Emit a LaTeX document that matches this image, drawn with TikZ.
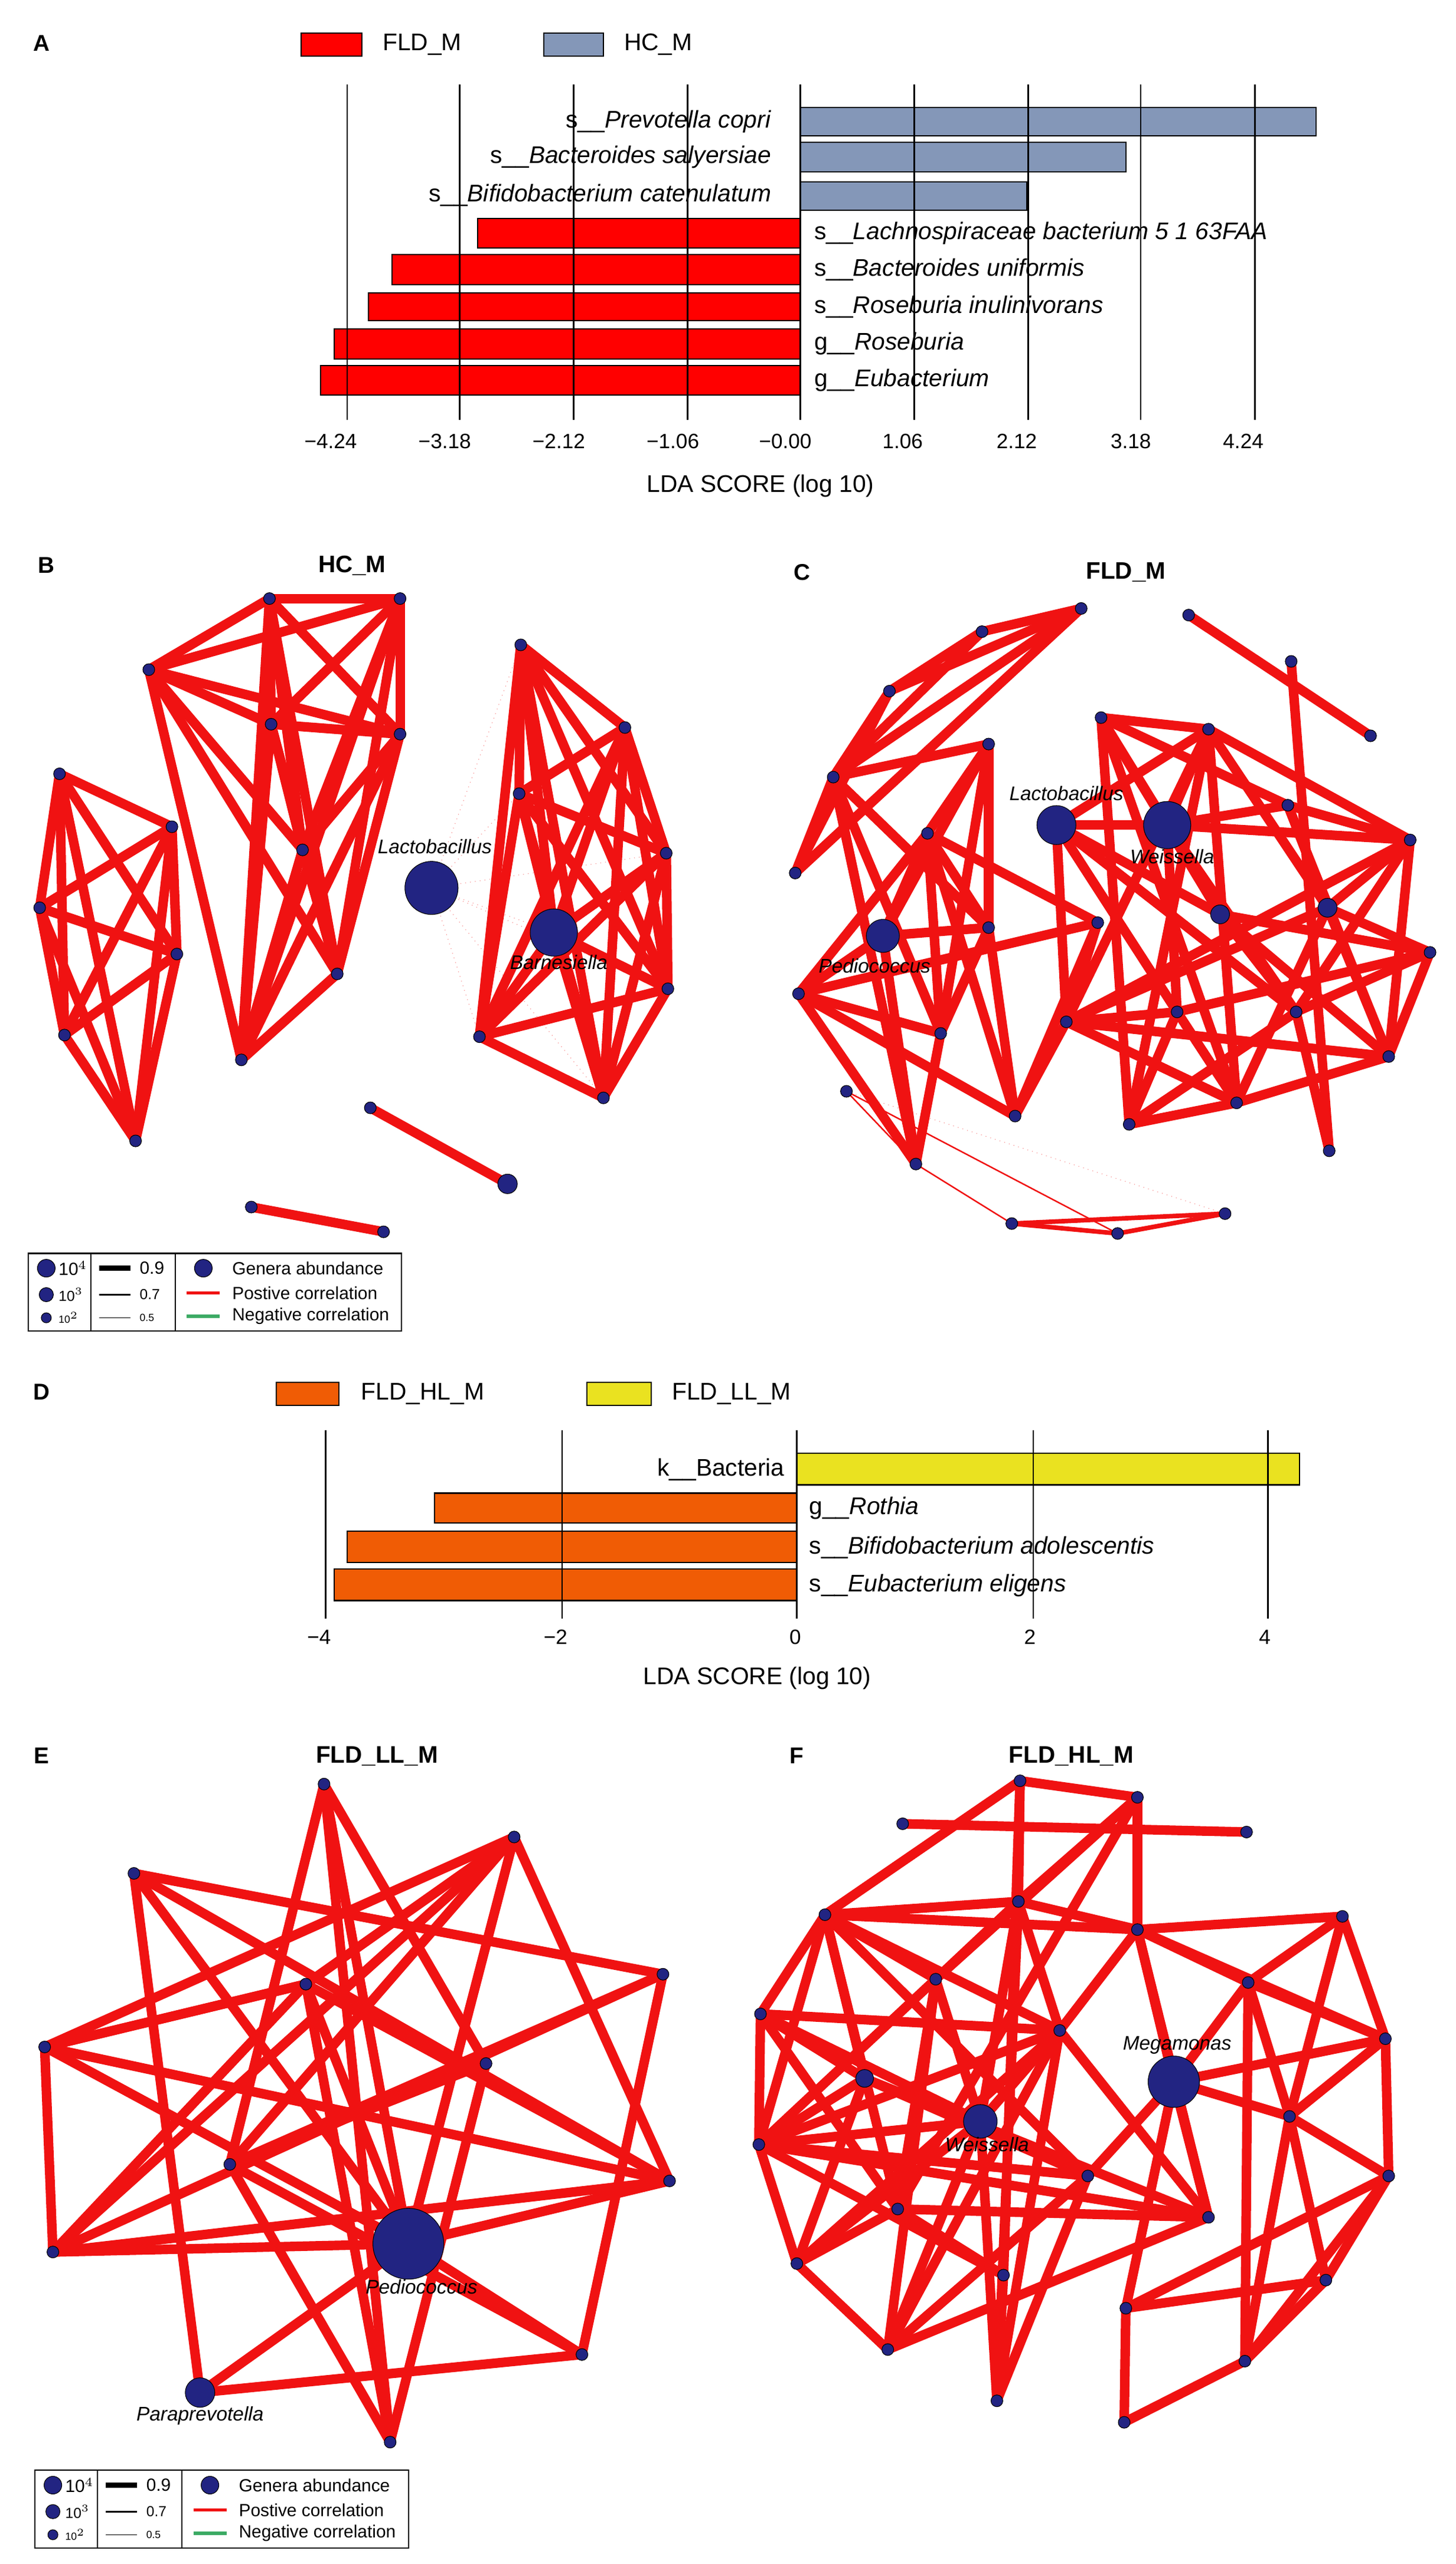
\documentclass[tikz,border=0pt]{standalone}
\usepackage{fontspec}
\setmainfont{Liberation Sans}
\begin{document}
\begin{tikzpicture}[x=0.028cm,y=-0.028cm,
  bar/.style={draw=black,line width=0.6pt},
  grid/.style={black,line width=0.8pt},
  lab/.style={font=\fontsize{11.6}{13}\selectfont,inner sep=1pt},
  tick/.style={font=\fontsize{10}{11}\selectfont},
  letter/.style={font=\bfseries\fontsize{11}{13}\selectfont},
  ttl/.style={font=\bfseries\fontsize{11.5}{13}\selectfont},
  edge/.style={draw=ered,line width=4.6pt},
  medge/.style={draw=ered,line width=2.2pt},
  thin/.style={draw=ered,line width=0.7pt},
  faint/.style={draw=ered!45,line width=0.35pt,dotted},
  g/.style={circle,fill=navy,draw=black,line width=0.3pt,inner sep=0pt,minimum size=#1},
  g/.default=0.2cm,
  nl/.style={font=\itshape\fontsize{9.5}{10}\selectfont,inner sep=0pt},
  lg/.style={font=\fontsize{8.5}{9}\selectfont,anchor=west,inner sep=1pt}]
\definecolor{hcblue}{RGB}{132,151,184}
\definecolor{navy}{RGB}{34,36,130}
\definecolor{ered}{RGB}{240,18,18}
\definecolor{ora}{RGB}{240,92,5}
\definecolor{yel}{RGB}{234,226,32}
\definecolor{egreen}{RGB}{60,170,100}
\useasboundingbox (0,0) rectangle (880.7,1550.7);
\fill[white] (0,0) rectangle (880.7,1550.7);
% ---------------- Panel A
\node[letter] (LA) at (25,26) {A};
\draw[bar,fill=red] (182,20) rectangle (219,34);
\node[lab,anchor=west] (lfa) at (230,27) {FLD\_M};
\draw[bar,fill=hcblue] (329,20) rectangle (365,34);
\node[lab,anchor=west] (lha) at (376,27) {HC\_M};
\draw[bar,fill=hcblue] (484,65) rectangle (796,82);
\draw[bar,fill=hcblue] (484,86) rectangle (681,104);
\draw[bar,fill=hcblue] (484,110) rectangle (621,127);
\draw[bar,fill=red] (289,132) rectangle (484,150);
\draw[bar,fill=red] (237,154) rectangle (484,172);
\draw[bar,fill=red] (223,177) rectangle (484,194);
\draw[bar,fill=red] (202,199) rectangle (484,217);
\draw[bar,fill=red] (194,221) rectangle (484,239);
\foreach \x in {210,278,347,416,484,553,622,690,759} \draw[grid] (\x,51) -- (\x,254);
\node[lab,anchor=east] at (468,73.5) {s\_\_\textit{Prevotella copri}};
\node[lab,anchor=east] at (468,95) {s\_\_\textit{Bacteroides salyersiae}};
\node[lab,anchor=east] at (468,118) {s\_\_\textit{Bifidobacterium catenulatum}};
\node[lab,anchor=west] at (491,141) {s\_\_\textit{Lachnospiraceae bacterium 5 1 63FAA}};
\node[lab,anchor=west] at (491,163) {s\_\_\textit{Bacteroides uniformis}};
\node[lab,anchor=west] at (491,185.5) {s\_\_\textit{Roseburia inulinivorans}};
\node[lab,anchor=west] at (491,208) {g\_\_\textit{Roseburia}};
\node[lab,anchor=west] at (491,230) {g\_\_\textit{Eubacterium}};
\foreach \x/\t in {200/−4.24,269/−3.18,338/−2.12,407/−1.06,475/−0.00,546/1.06,615/2.12,684/3.18,752/4.24}
  \node[tick] at (\x,267) {\t};
\node[lab] (xa) at (460,294) {LDA SCORE (log 10)};
% ---------------- Panel D
\node[letter] (LD) at (25,842) {D};
\draw[bar,fill=ora] (167,836) rectangle (205,850);
\node[lab,anchor=west] at (217,843) {FLD\_HL\_M};
\draw[bar,fill=yel] (355,836) rectangle (394,850);
\node[lab,anchor=west] at (405,843) {FLD\_LL\_M};
\draw[bar,fill=yel] (482,879) rectangle (786,898);
\draw[bar,fill=ora] (263,903) rectangle (482,921);
\draw[bar,fill=ora] (210,926) rectangle (482,945);
\draw[bar,fill=ora] (202,949) rectangle (482,968);
\draw[grid] (197,865) -- (197,979); \draw[grid,line width=0.4pt] (340,865) -- (340,979);
\foreach \x in {482,625,767} \draw[grid] (\x,865) -- (\x,979);
\node[lab,anchor=east] at (476,889) {k\_\_Bacteria};
\node[lab,anchor=west] at (488,912) {g\_\_\textit{Rothia}};
\node[lab,anchor=west] at (488,936) {s\_\_\textit{Bifidobacterium adolescentis}};
\node[lab,anchor=west] at (488,959) {s\_\_\textit{Eubacterium eligens}};
\foreach \x/\t in {193/−4,336/−2,481/0,623/2,765/4} \node[tick] at (\x,990) {\t};
\node[lab] (xd) at (458,1015) {LDA SCORE (log 10)};
% ---------------- Panel B
\foreach \n/\x/\y in {1/90/405,2/163/362,3/242/362,4/164/438,5/242/444,6/183/514,7/204/589,8/146/641,9/36/468,10/104/500,11/107/577,12/24/549,13/39/626,14/82/690}
  \coordinate (b\n) at (\x,\y);
\foreach \n/\x/\y in {1/315/390,2/378/440,3/314/480,4/403/516,5/404/598,6/290/627,7/365/664,B/335/564}
  \coordinate (r\n) at (\x,\y);
\coordinate (bL) at (261,537);
\coordinate (s1) at (224,670); \coordinate (s2) at (307,716);
\coordinate (s3) at (152,730); \coordinate (s4) at (232,745);
\foreach \a in {1,3,4,5,6,7,B} \draw[faint] (bL) -- (r\a);
\foreach \a/\b in {1/2,1/3,1/4,1/5,1/6,1/7,1/8,2/3,2/4,2/5,2/6,2/7,2/8,3/4,3/5,3/6,3/7,3/8,4/5,4/6,4/7,4/8,5/6,5/7,5/8,6/7,6/8,7/8,9/10,9/11,9/12,9/13,9/14,10/11,10/12,10/13,10/14,11/12,11/13,11/14,12/13,12/14,13/14}
  \draw[edge] (b\a) -- (b\b);
\foreach \a/\b in {1/2,1/3,1/4,1/5,1/6,1/7,1/B,2/3,2/4,2/5,2/6,2/7,2/B,3/4,3/5,3/6,3/7,3/B,4/5,4/6,4/7,4/B,5/6,5/7,5/B,6/7,6/B,7/B}
  \draw[edge] (r\a) -- (r\b);
\draw[edge] (s1) -- (s2); \draw[edge] (s3) -- (s4);
\foreach \n in {1,...,14} \node[g] at (b\n) {};
\foreach \n in {1,...,7} \node[g] at (r\n) {};
\node[g] at (s1) {}; \node[g=0.33cm] at (s2) {}; \node[g] at (s3) {}; \node[g] at (s4) {};
\node[g=0.9cm] (nbL) at (bL) {};
\node[g=0.8cm] (nbB) at (rB) {};
\node[nl] at (263,512) {Lactobacillus};
\node[nl] at (338,582) {Barnesiella};
\node[letter] at (28,342) {B};
\node[ttl] at (213,342) {HC\_M};
% legends
\foreach \yy/\xx in {758/17,1494/21}{
\begin{scope}[yshift=-\yy*0.028cm,xshift=\xx*0.028cm]
\draw[line width=0.6pt] (0,0) rectangle (226,47);
\draw[line width=0.6pt] (38,0) -- (38,47); \draw[line width=0.6pt] (89,0) -- (89,47);
\node[g=0.3cm] at (11,9) {}; \node[g=0.24cm] at (11,25) {}; \node[g=0.17cm] at (11,39) {};
\node[lg] at (17,9) {10$^4$}; \node[lg,font=\fontsize{7}{7}\selectfont] at (17,25) {10$^3$}; \node[lg,font=\fontsize{5}{6}\selectfont] at (17,39) {10$^2$};
\draw[line width=2.4pt] (43,9) -- (62,9); \draw[line width=0.7pt] (43,25) -- (62,25); \draw[line width=0.4pt] (43,39) -- (62,39);
\node[lg] at (66,9) {0.9}; \node[lg,font=\fontsize{7}{7}\selectfont] at (66,25) {0.7}; \node[lg,font=\fontsize{5}{6}\selectfont] at (66,39) {0.5};
\node[g=0.3cm] at (106,9) {};
\draw[ered,line width=1.6pt] (96,24) -- (116,24);
\draw[egreen,line width=1.6pt] (96,38) -- (116,38);
\node[lg] at (122,9) {Genera abundance};
\node[lg] at (122,24) {Postive correlation};
\node[lg] at (122,38) {Negative correlation};
\end{scope}}
% ---------------- Panel C
\foreach \n/\x/\y in {1/654/368,2/594/382,3/538/418,4/504/470,5/481/528,6/598/450,7/561/504,8/598/561,9/483/601,10/569/625,11/664/558,12/614/675,13/554/704,14/512/660,15/612/740,16/676/746,17/741/734,18/666/434,19/731/441,20/719/372,21/829/445,22/781/400,23/779/487,24/853/508,25/803/549,26/738/553,27/865/576,28/645/618,29/712/612,30/784/612,31/840/639,32/748/667,33/683/680,34/804/696,L/639/499,W/706/499,P/534/566}
  \coordinate (c\n) at (\x,\y);
\draw[faint] (c14) -- (c17);
\draw[thin] (c14) -- (c16); \draw[thin] (c14) -- (c13); \draw[thin] (c13) -- (c15);
\draw[medge] (c15) -- (c16); \draw[medge] (c16) -- (c17); \draw[medge] (c15) -- (c17);
\foreach \a/\b in {1/2,1/3,1/4,1/5,2/3,2/4,3/4,3/5,4/6,4/5,4/8,4/13,4/10,6/7,6/P,6/8,6/10,7/P,7/8,7/9,7/10,7/12,7/11,P/8,P/9,9/10,9/11,9/12,8/10,8/12,11/12,13/4,13/10,13/P,13/9,20/21,22/34,L/W,L/19,L/29,L/28,L/30,L/26,W/18,W/19,W/23,W/24,W/26,W/30,W/29,18/19,18/26,18/33,18/32,18/23,19/24,19/32,19/28,19/33,19/25,23/24,23/25,23/31,24/25,24/28,24/31,24/30,25/27,25/28,25/31,25/32,26/27,26/30,26/31,27/29,27/30,27/31,28/31,28/32,28/29,29/32,29/33,30/33,31/32,32/33,30/34,11/28,12/28}
  \draw[edge] (c\a) -- (c\b);
\foreach \n in {1,...,24,27,28,29,30,31,32,33,34} \node[g] at (c\n) {};
\node[g=0.32cm] at (c25) {}; \node[g=0.32cm] at (c26) {};
\node[g=0.66cm] at (cL) {}; \node[g=0.8cm] at (cW) {}; \node[g=0.56cm] at (cP) {};
\node[nl] at (645,480) {Lactobacillus};
\node[nl] at (709,518) {Weissella};
\node[nl] at (529,584) {Pediococcus};
\node[letter] at (485,346) {C};
\node[ttl] at (681,346) {FLD\_M};
% ---------------- Panel E
\foreach \n/\x/\y in {1/196/1079,2/311/1111,3/81/1133,4/185/1200,5/401/1194,6/27/1238,7/294/1248,8/139/1309,9/405/1319,10/32/1362,P/247/1357,12/352/1424,Q/121/1447,14/236/1477}
  \coordinate (e\n) at (\x,\y);
\foreach \a/\b in {1/8,1/P,1/7,1/14,2/6,2/10,2/4,2/P,2/9,2/8,3/5,3/P,3/Q,3/9,4/6,4/9,4/14,4/P,5/12,5/10,5/8,6/9,6/P,6/10,6/4,7/8,7/14,8/12,8/14,10/P,10/9,9/P,Q/P,Q/12,P/12,10/4}
  \draw[edge] (e\a) -- (e\b);
\foreach \n in {1,...,10,12,14} \node[g] at (e\n) {};
\node[g=1.2cm] at (eP) {}; \node[g=0.5cm] at (eQ) {};
\node[nl] at (255,1383) {Pediococcus};
\node[nl] at (121,1461) {Paraprevotella};
\node[letter] at (25,1062) {E};
\node[ttl] at (228,1062) {FLD\_LL\_M};
% ---------------- Panel F
\foreach \n/\x/\y in {1/617/1077,2/688/1087,3/546/1103,4/754/1108,5/616/1150,6/499/1158,7/688/1167,8/812/1159,9/566/1197,10/755/1199,11/460/1218,12/641/1228,13/838/1233,M/710/1259,15/523/1257,W/593/1283,17/780/1280,18/459/1297,19/658/1316,20/840/1316,21/543/1336,22/731/1341,23/482/1369,24/607/1376,25/802/1379,26/681/1396,27/537/1421,28/753/1428,29/603/1452,30/680/1465}
  \coordinate (f\n) at (\x,\y);
\foreach \a/\b in {3/4,1/2,1/5,1/6,1/24,2/7,2/5,2/9,2/21,5/6,5/7,5/9,5/12,5/W,5/29,6/11,6/7,6/9,6/15,6/18,6/19,6/21,6/12,7/8,7/10,7/12,7/22,7/M,7/13,8/10,8/13,8/17,10/17,10/13,10/28,10/M,13/17,13/20,13/M,17/M,17/20,17/28,17/25,20/25,20/26,20/28,25/26,25/28,26/30,28/30,26/M,22/M,M/19,11/12,11/15,11/18,11/21,11/W,9/18,9/21,9/27,9/W,15/18,15/23,15/19,15/22,18/23,18/W,18/19,18/22,18/24,23/27,23/W,23/21,27/W,27/12,27/22,27/19,21/22,21/24,W/29,24/29,12/29,12/23,19/29,12/18,22/12,12/W}
  \draw[edge] (f\a) -- (f\b);
\foreach \n in {1,...,13,17,18,...,30} \node[g] at (f\n) {};
\node[g=0.3cm] at (f15) {};
\node[g=0.87cm] at (fM) {}; \node[g=0.57cm] at (fW) {};
\node[nl] at (712,1237) {Megamonas};
\node[nl] at (597,1297) {Weissella};
\node[letter] at (482,1062) {F};
\node[ttl] at (648,1062) {FLD\_HL\_M};
\end{tikzpicture}
\end{document}
